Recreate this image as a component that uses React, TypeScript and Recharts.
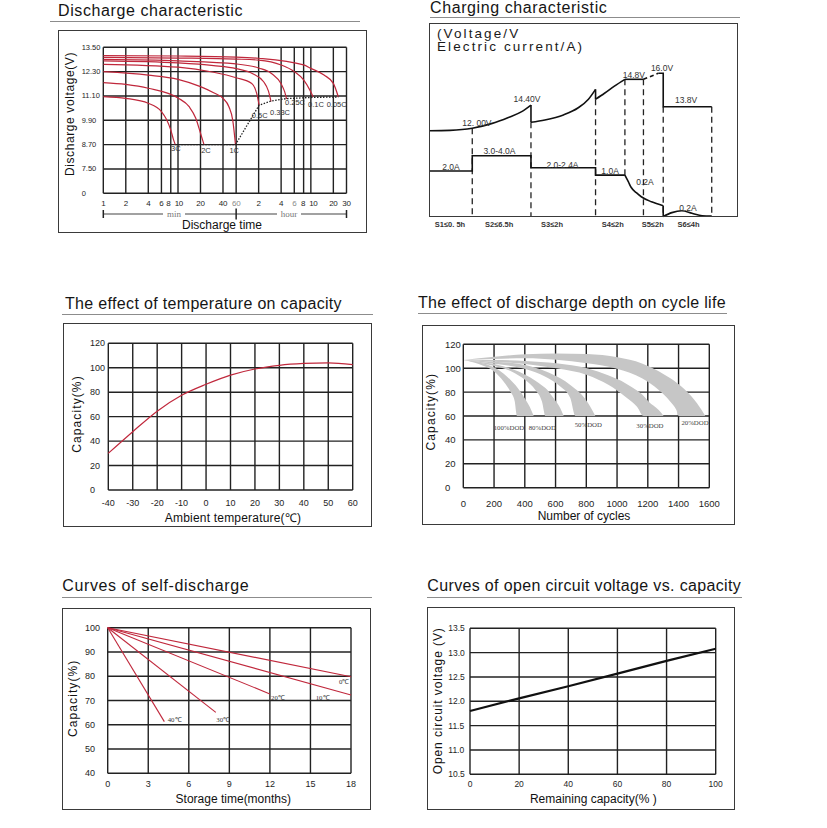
import React from 'react';
import {
  LineChart, Line, AreaChart, Area, XAxis, YAxis, CartesianGrid,
  ReferenceLine, ReferenceDot,
} from 'recharts';

const SANS = '"Liberation Sans", Arial, Helvetica, sans-serif';
const SERIF = '"Liberation Serif", "Times New Roman", serif';
const INK = '#1e1e1e';
const RED = '#c0283c';
const GRID = '#222';
const GW = 1.4;

/* ---------------- 1. Discharge characteristic ---------------- */
const dischargeTimeTicks = [1, 2, 4, 6, 8, 10, 20, 40, 60, 120, 240, 360, 480, 600, 1200, 1800];
const dischargeTimeLabels = ['1', '2', '4', '6', '8', '10', '20', '40', '60', '2', '4', '6', '8', '10', '20', '30'];
const dischargeVoltTicks = [0, 7.5, 8.7, 9.9, 11.1, 12.3, 13.5];
const dischargeVoltLabels = ['0', '7.50', '8.70', '9.90', '11.10', '12.30', '13.50'];

const curve3C = [[1, 11.07], [2, 10.98], [4, 10.74], [6, 10.33], [7, 9.95], [8, 9.42], [8.7, 8.95], [9.2, 8.7]];
const curve2C = [[1, 11.76], [2, 11.67], [4, 11.48], [10, 11.0], [14.1, 10.57], [17.3, 10.0], [20, 9.26], [22.3, 8.7]];
const curve1C = [[1, 12.3], [4, 12.13], [10, 11.92], [20, 11.56], [30, 11.26], [40, 10.98], [48, 10.57], [54, 9.91], [58.8, 8.7]];
const curve05C = [[1, 12.66], [10, 12.52], [30, 12.27], [60, 12.0], [97, 11.72], [113, 11.23], [122, 10.65]];
const curve033C = [[1, 12.83], [10, 12.73], [30, 12.6], [60, 12.45], [100, 12.2], [140, 11.8], [162, 11.35], [176, 10.82]];
const curve025C = [[1, 12.9], [10, 12.83], [60, 12.68], [120, 12.48], [180, 12.2], [240, 11.7], [268, 11.3], [284, 10.95]];
const curve01C = [[1, 13.0], [10, 12.97], [60, 12.92], [120, 12.87], [240, 12.63], [360, 12.3], [480, 11.89], [580, 11.4], [645, 11.05]];
const curve005C = [[1, 13.09], [10, 13.07], [60, 13.02], [120, 12.96], [480, 12.63], [600, 12.46], [900, 12.13], [1200, 11.72], [1400, 11.05]];
const cutoffPath = [[9.2, 8.7], [58.8, 8.7], [122, 10.65], [176, 10.85], [284, 10.97], [645, 11.03], [1400, 11.05]];

const dischargeRates = ['3C', '2C', '1C', '0.5C', '0.33C', '0.25C', '0.1C', '0.05C'];
const dischargeCurves = [curve3C, curve2C, curve1C, curve05C, curve033C, curve025C, curve01C, curve005C];
const rateLabelTime = [9.36, 23.7, 56.5, 124, 232, 368, 703, 1331];
const rateLabelVolt = [8.5, 8.4, 8.4, 10.16, 10.28, 10.77, 10.7, 10.7];

/* ---------------- 2. Charging characteristic (schematic units) ---------------- */
const stageCenters = [6.8, 22.7, 39.8, 59.5, 72.4, 84.0];
const stageLabels = ['S1≤0. 5h', 'S2≤6.5h', 'S3≤2h', 'S4≤2h', 'S5≤2h', 'S6≤4h'];

const voltageRise1 = [[0, 44.3], [6.8, 44.5], [14, 45.6], [20.2, 48.0], [25.7, 51.2], [30, 54.2], [33, 57.6]];
const voltageRise2 = [[33, 48.7], [37.5, 49.9], [43.5, 52.5], [48.3, 56.2], [51.6, 60.6], [53.9, 65.7]];
const voltageRise3 = [[53.9, 60.6], [56.8, 63.7], [60, 67.4], [63.4, 70.9]];
const voltageDrop1 = [[33, 57.6], [33, 48.7]];
const voltageDrop2 = [[53.9, 65.7], [53.9, 60.6]];
const voltageHold = [[63.4, 70.9], [69.4, 70.9]];
const voltageBoost = [[69.4, 70.9], [74.2, 74.0]];
const voltageFloat = [[74.2, 74.0], [75.8, 74.0], [75.8, 56.7], [91.5, 56.7]];
const currentSteps = [[0, 23.5], [14, 23.5], [14, 31.4], [33, 31.4], [33, 25.2], [53.9, 25.2], [53.9, 21.4], [63.4, 21.4]];
const currentDecay = [[63.4, 21.4], [64.5, 18.0], [65.4, 15.1], [67.1, 12.3], [68.7, 10.2], [72.0, 7.6], [75.8, 5.6]];
const currentDrop = [[75.8, 5.6], [75.8, 0]];
const currentHump = [[75.8, 0], [78.6, 2.0], [81.8, 3.0], [85.1, 1.7], [88.4, 0.4], [91.5, 0.2]];
const stageDividerX = [14, 33, 53.9, 63.4, 69.4, 75.8, 91.5];
const stageDividerTop = [45.6, 48.7, 60.6, 70.9, 70.9, 56.7, 56.7];
const stageDividerBottom = [0, 0, 0, 21.4, 0, 0, 0];

const chargeNotes = ['12. 00V', '14.40V', '14.8V', '16.0V', '13.8V', '2.0A', '3.0-4.0A', '2.0-2.4A', '1.0A', '0.2A', '0.2A'];
const chargeNoteX = [15.5, 31.7, 66.3, 75.4, 83.2, 7.1, 22.8, 43.2, 58.6, 69.9, 83.8];
const chargeNoteY = [48.3, 60.7, 73.1, 76.7, 60.2, 25.8, 33.6, 26.6, 23.3, 17.6, 4.4];

/* ---------------- 3. Temperature vs capacity ---------------- */
const tempC = [-40, -30, -20, -10, 0, 10, 20, 30, 40, 50, 60];
const tempCapacity = [30, 47.7, 64.5, 77.5, 86.5, 94, 99, 102, 103.5, 104, 102.5];

/* ---------------- 4. Discharge depth vs cycle life ---------------- */
const dod100Cycles = [0, 100, 202, 263, 306, 334, 349, 393, 432, 458];
const dod100Upper = [106.9, 104.9, 100.5, 95.3, 90.3, 86.5, 84.3, 76.2, 67.8, 60];
const dod100Lower = [106.9, 103.5, 97.1, 88.7, 80.4, 72.5, 60, 60, 60, 60];
const dod80Cycles = [0, 100, 202, 317, 403, 469, 512, 534, 588, 631, 653];
const dod80Upper = [106.9, 105.4, 103.5, 99.3, 94.5, 89.5, 85.5, 83.5, 74.8, 66.4, 60];
const dod80Lower = [106.9, 104.6, 101.8, 97.1, 90.1, 81.8, 72, 60, 60, 60, 60];
const dod50Cycles = [0, 202, 403, 534, 631, 696, 729, 772, 826, 859];
const dod50Upper = [106.9, 105.5, 102.7, 97.5, 91.5, 86, 82.5, 77.6, 67.8, 60];
const dod50Lower = [106.9, 103.8, 99.3, 92.9, 84.6, 75, 60, 60, 60, 60];
const dod30Cycles = [0, 202, 403, 605, 805, 946, 1054, 1130, 1173, 1206, 1271, 1303];
const dod30Upper = [106.9, 106.9, 106, 104.1, 99.9, 93.8, 87.5, 81.3, 76.8, 72, 65, 60];
const dod30Lower = [106.9, 105.5, 103.5, 99.9, 94.3, 85.9, 76.2, 67.8, 60, 60, 60, 60];
const dod20Cycles = [0, 202, 403, 605, 805, 1004, 1162, 1271, 1347, 1386, 1401, 1444, 1520, 1574];
const dod20Upper = [106.9, 109.65, 111.6, 112.4, 111.9, 109.1, 104, 97.5, 91.5, 88, 86.5, 81.8, 70.6, 60];
const dod20Lower = [106.9, 107.7, 108.3, 107, 104.1, 99.3, 91.5, 81.8, 72, 65, 60, 60, 60, 60];
const dodNames = ['100%DOD', '80%DOD', '50%DOD', '30%DOD', '20%DOD'];
const dodLabelCycles = [297, 514, 813, 1214, 1507];
const dodLabelCap = [50.5, 50.0, 52.5, 51.9, 54.4];

/* ---------------- 5. Self-discharge ---------------- */
const selfTemps = ['0℃', '10℃', '20℃', '30℃', '40℃'];
const selfEndMonths = [18, 18, 12, 8, 4.19];
const selfEndCapacity = [79.8, 72.3, 72.7, 65.1, 61.3];
const selfLabelMonths = [17.5, 15.9, 12.6, 8.55, 4.95];
const selfLabelCapacity = [77.8, 71.2, 71.2, 62.3, 62.3];

/* ---------------- 6. Open circuit voltage ---------------- */
const ocvCapacity = [0, 20, 40, 60, 80, 100];
const ocvVoltage = [11.8, 12.06, 12.31, 12.57, 12.83, 13.08];

/* ---------------- helpers ---------------- */
const pairs = (arr: number[][]) => arr.map(([x, y]) => ({ x, y }));

const txt = (x: number, y: number, s: string, fs: number, anchor: string, fill = INK, family = SANS, weight: any = 'normal', ls = 0) => (
  <text x={x} y={y} textAnchor={anchor as any} dominantBaseline="central" fontSize={fs} fontFamily={family}
    fill={fill} fontWeight={weight} letterSpacing={ls}>{s}</text>
);

const leftTick = (x: number, fs: number, fmt: (v: number) => string = (v) => String(v)) =>
  (p: any) => txt(x, p.y, fmt(p.payload.value), fs, 'start');

const bottomTick = (off: number, fs: number, fmt: (v: number) => string = (v) => String(v),
  color: (v: number) => string = () => INK, weight: any = 'normal', ls = 0,
  nudge: (v: number) => number = () => 0) =>
  (p: any) => txt(p.x + nudge(p.payload.value), p.y + off, fmt(p.payload.value), fs, 'middle',
    color(p.payload.value), SANS, weight, ls);

const fixedLabel = (s: string, x: number, y: number, rotate: boolean, fs = 12, ls = 0) => ({
  content: () => (
    <text x={x} y={y} textAnchor="middle" dominantBaseline="central" fontSize={fs} fontFamily={SANS}
      fill="#111" letterSpacing={ls} transform={rotate ? `rotate(-90, ${x}, ${y})` : undefined}>{s}</text>
  ),
});

const note = (key: string, x: number, y: number, s: string, fs: number, fill: string, family = SANS, weight: any = 'normal') => (
  <ReferenceDot key={key} x={x} y={y} r={0} fill="none" stroke="none" ifOverflow="visible"
    label={{
      content: (p: any) => {
        const vb = p.viewBox || {};
        const cx = (vb.x ?? 0) + (vb.width ?? 0) / 2;
        const cy = (vb.y ?? 0) + (vb.height ?? 0) / 2;
        return txt(cx, cy, s, fs, 'middle', fill, family, weight);
      },
    }} />
);

const Title = ({ text, left, top, ls }: any) => (
  <div style={{ position: 'absolute', left, top, fontSize: 16, lineHeight: '16px', letterSpacing: ls,
    fontFamily: SANS, color: '#151515', whiteSpace: 'nowrap' }}>{text}</div>
);
const Rule = ({ left, top, width }: any) => (
  <div style={{ position: 'absolute', left, top, width, height: 1, background: '#8c8c8c' }} />
);
const Box = ({ left, top, width, height, children }: any) => (
  <div style={{ position: 'absolute', left, top, width, height }}>
    {children}
    <div style={{ position: 'absolute', left: 0, top: 0, width, height, border: '1px solid #3a3a3a',
      boxSizing: 'border-box', pointerEvents: 'none' }} />
  </div>
);

/* ---------------- charts ---------------- */
function DischargeChart() {
  const toU = (v: number) => (v <= 7.5 ? v / 7.5 : 1 + (v - 7.5) / 1.2);
  const uTicks = dischargeVoltTicks.map(toU);
  const W = 309, H = 203, PL = 45.3, PR = 288.5, PB = 163.3;
  const px = (t: number) => PL + (PR - PL) * Math.log(t) / Math.log(1800);
  const greyTicks = [60, 360];
  const tickNudge = (v: number) => (v === 8 ? -2.5 : v === 10 ? 0.8 : v === 480 ? -0.5 : v === 600 ? 2.5 : 0);
  const bracket = () => {
    const yb = PB + 20.7;
    const x60 = px(60);
    const seg = (a: number, b: number, k: string) => <line key={k} x1={a} y1={yb} x2={b} y2={yb} stroke="#444" strokeWidth={1.2} />;
    const bar = (x: number, h: number, k: string) => <line key={k} x1={x} y1={yb - h} x2={x} y2={yb + h} stroke="#222" strokeWidth={1.5} />;
    return (
      <g>
        {seg(PL, 105, 'a')}{seg(127, x60, 'b')}{seg(x60, 219, 'c')}{seg(243, PR, 'd')}
        {bar(PL, 4, 'e')}{bar(PR, 4, 'f')}{bar(x60, 5.5, 'g')}
        {txt(116, yb, 'min', 9, 'middle', '#777', SERIF)}
        {txt(231, yb, 'hour', 9, 'middle', '#777', SERIF)}
        {txt(164, 194.5, 'Discharge time', 12, 'middle', '#111')}
      </g>
    );
  };
  return (
    <LineChart width={W} height={H} margin={{ top: 17.3, right: W - PR, left: 0, bottom: 0 }}>
      <CartesianGrid stroke={GRID} strokeWidth={GW} />
      <XAxis dataKey="x" type="number" scale="log" domain={[1, 1800]} ticks={dischargeTimeTicks} allowDataOverflow
        interval={0} height={H - PB} axisLine={false} tickLine={false} tickSize={0} tickMargin={0}
        tick={bottomTick(10, 8, (v) => dischargeTimeLabels[dischargeTimeTicks.indexOf(v)] ?? '',
          (v) => (greyTicks.includes(v) ? '#8a8a8a' : INK), 'normal', -0.3, tickNudge)}
        label={{ content: bracket }} />
      <YAxis type="number" domain={[0, 6]} ticks={uTicks} interval={0} width={PL} axisLine={false} tickLine={false}
        tickSize={0} tickMargin={0}
        tick={leftTick(23.7, 7.5, (v) => dischargeVoltLabels[Math.round(v)])}
        label={fixedLabel('Discharge voltage(V)', 12, 84, true, 12, 0.6)} />
      {dischargeCurves.map((c, i) => (
        <Line key={dischargeRates[i]} data={c.map(([t, v]) => ({ x: t, y: toU(v) }))} dataKey="y" type="monotone"
          stroke={RED} strokeWidth={1.2} dot={false} activeDot={false} isAnimationActive={false} />
      ))}
      <Line data={cutoffPath.map(([t, v]) => ({ x: t, y: toU(v) }))} dataKey="y" type="linear" stroke="#222"
        strokeWidth={1.3} strokeDasharray="1.5 1.5" dot={false} activeDot={false} isAnimationActive={false} />
      {dischargeRates.map((r, i) => note('n' + r, rateLabelTime[i], toU(rateLabelVolt[i]), r, 7.5, '#333'))}
    </LineChart>
  );
}

function ChargingChart() {
  const solidLinear = [voltageDrop1, voltageDrop2, voltageHold, voltageFloat, currentSteps, currentDrop];
  const solidCurved = [voltageRise1, voltageRise2, voltageRise3, currentDecay, currentHump];
  return (
    <LineChart width={309} height={209} margin={{ top: 0, right: 0, left: 0, bottom: 0 }}>
      <XAxis dataKey="x" type="number" domain={[0, 100]} ticks={stageCenters} interval={0} height={15.5}
        axisLine={false} tickLine={false} tickSize={0} tickMargin={0}
        tick={bottomTick(7.5, 7.5, (v) => stageLabels[stageCenters.indexOf(v)] ?? '', () => '#333', 'bold')} />
      <YAxis type="number" domain={[0, 100]} hide />
      {stageDividerX.map((x, i) => (
        <ReferenceLine key={'d' + i} segment={[{ x, y: stageDividerTop[i] }, { x, y: stageDividerBottom[i] }]}
          stroke="#222" strokeWidth={1.3} strokeDasharray="6 4" ifOverflow="visible" />
      ))}
      {solidLinear.map((s, i) => (
        <Line key={'l' + i} data={pairs(s)} dataKey="y" type="linear" stroke="#111" strokeWidth={1.6}
          dot={false} activeDot={false} isAnimationActive={false} />
      ))}
      {solidCurved.map((s, i) => (
        <Line key={'c' + i} data={pairs(s)} dataKey="y" type="monotone" stroke="#111" strokeWidth={1.6}
          dot={false} activeDot={false} isAnimationActive={false} />
      ))}
      <Line data={pairs(voltageBoost)} dataKey="y" type="linear" stroke="#111" strokeWidth={1.6}
        strokeDasharray="4 3" dot={false} activeDot={false} isAnimationActive={false} />
      {chargeNotes.map((s, i) => note('c' + i, chargeNoteX[i], chargeNoteY[i], s, 8.5, '#333'))}
    </LineChart>
  );
}

function TemperatureChart() {
  const data = tempC.map((t, i) => ({ x: t, y: tempCapacity[i] }));
  return (
    <LineChart width={309} height={204} data={data} margin={{ top: 20.3, right: 19.3, left: 0, bottom: 0 }}>
      <CartesianGrid stroke={GRID} strokeWidth={GW} />
      <XAxis dataKey="x" type="number" domain={[-40, 60]} ticks={tempC} interval={0} height={37}
        axisLine={false} tickLine={false} tickSize={0} tickMargin={0} tick={bottomTick(13.3, 9)}
        label={fixedLabel('Ambient temperature(℃)', 170, 195, false, 12, 0.2)} />
      <YAxis type="number" domain={[0, 120]} ticks={[0, 20, 40, 60, 80, 100, 120]} interval={0} width={45.3}
        axisLine={false} tickLine={false} tickSize={0} tickMargin={0} tick={leftTick(27, 9)}
        label={fixedLabel('Capacity(%)', 13.7, 91, true, 12, 1.1)} />
      <Line dataKey="y" type="monotone" stroke={RED} strokeWidth={1.2} dot={false} activeDot={false}
        isAnimationActive={false} />
    </LineChart>
  );
}

function DodChart() {
  const bands = [
    [dod100Cycles, dod100Upper, dod100Lower],
    [dod80Cycles, dod80Upper, dod80Lower],
    [dod50Cycles, dod50Upper, dod50Lower],
    [dod30Cycles, dod30Upper, dod30Lower],
    [dod20Cycles, dod20Upper, dod20Lower],
  ];
  return (
    <AreaChart width={313} height={200} margin={{ top: 19.3, right: 25.7, left: 0, bottom: 0 }}>
      <CartesianGrid stroke={GRID} strokeWidth={GW} />
      <XAxis dataKey="x" type="number" domain={[0, 1600]} ticks={[0, 200, 400, 600, 800, 1000, 1200, 1400, 1600]}
        interval={0} height={37.3} axisLine={false} tickLine={false} tickSize={0} tickMargin={0}
        tick={bottomTick(15.6, 9.5)} label={fixedLabel('Number of cycles', 162, 191, false, 12, 0)} />
      <YAxis type="number" domain={[0, 120]} ticks={[0, 20, 40, 60, 80, 100, 120]} interval={0} width={41.3}
        axisLine={false} tickLine={false} tickSize={0} tickMargin={0} tick={leftTick(23, 9.5)}
        label={fixedLabel('Capacity(%)', 8.8, 86.7, true, 12, 1.1)} />
      {bands.map(([cyc, hi, lo], i) => (
        <Area key={dodNames[i]} data={cyc.map((c, j) => ({ x: c, r: [lo[j], hi[j]] }))} dataKey="r"
          type="monotone" stroke="none" fill="#c6c6c6" fillOpacity={1} dot={false} activeDot={false}
          isAnimationActive={false} />
      ))}
      {dodNames.map((s, i) => note('d' + i, dodLabelCycles[i], dodLabelCap[i], s, 6.8, '#444', SERIF))}
    </AreaChart>
  );
}

function SelfDischargeChart() {
  return (
    <LineChart width={309} height={202} margin={{ top: 19.7, right: 20, left: 0, bottom: 0 }}>
      <CartesianGrid stroke={GRID} strokeWidth={GW} />
      <XAxis dataKey="x" type="number" domain={[0, 18]} ticks={[0, 3, 6, 9, 12, 15, 18]} interval={0}
        height={36.7} axisLine={false} tickLine={false} tickSize={0} tickMargin={0} tick={bottomTick(11, 9)}
        label={fixedLabel('Storage time(months)', 171.3, 191, false, 12, 0)} />
      <YAxis type="number" domain={[40, 100]} ticks={[40, 50, 60, 70, 80, 90, 100]} interval={0} width={45.7}
        axisLine={false} tickLine={false} tickSize={0} tickMargin={0} tick={leftTick(23, 9)}
        label={fixedLabel('Capacity(%)', 11.3, 90.3, true, 12, 1.1)} />
      {selfTemps.map((t, i) => (
        <Line key={t} data={[{ x: 0, y: 100 }, { x: selfEndMonths[i], y: selfEndCapacity[i] }]} dataKey="y"
          type="linear" stroke={RED} strokeWidth={1.1} dot={false} activeDot={false} isAnimationActive={false} />
      ))}
      {selfTemps.map((t, i) => note('s' + i, selfLabelMonths[i], selfLabelCapacity[i], t, 6.8, '#333', SERIF))}
    </LineChart>
  );
}

function OcvChart() {
  const data = ocvCapacity.map((c, i) => ({ x: c, y: ocvVoltage[i] }));
  return (
    <LineChart width={308} height={203} data={data} margin={{ top: 21.3, right: 19.3, left: 0, bottom: 0 }}>
      <CartesianGrid stroke={GRID} strokeWidth={GW} />
      <XAxis dataKey="x" type="number" domain={[0, 100]} ticks={ocvCapacity} interval={0} height={35.7}
        axisLine={false} tickLine={false} tickSize={0} tickMargin={0} tick={bottomTick(10, 8.5)}
        label={fixedLabel('Remaining capacity(% )', 166.3, 192, false, 12, 0)} />
      <YAxis type="number" domain={[10.5, 13.5]} ticks={[10.5, 11, 11.5, 12, 12.5, 13, 13.5]} interval={0}
        width={43} axisLine={false} tickLine={false} tickSize={0} tickMargin={0}
        tick={leftTick(21.3, 8.5, (v) => v.toFixed(1))}
        label={fixedLabel('Open circuit voltage (V)', 10.7, 93.8, true, 12, 0.9)} />
      <Line dataKey="y" type="linear" stroke="#111" strokeWidth={2.2} dot={false} activeDot={false}
        isAnimationActive={false} />
    </LineChart>
  );
}

const headStyle: React.CSSProperties = {
  position: 'absolute', left: 8, fontSize: 13.5, lineHeight: '13px', height: 13,
  letterSpacing: 2.1, color: '#1a1a1a', whiteSpace: 'nowrap',
};

export default function App() {
  return (
    <div style={{ position: 'absolute', left: 0, top: 0, width: 827, height: 828, background: '#fff',
      overflow: 'hidden', fontFamily: SANS }}>
      <Title text="Discharge characteristic" left={58} top={3.2} ls={0.6} />
      <Rule left={50} top={21} width={310} />
      <Box left={58} top={30} width={309} height={203}><DischargeChart /></Box>

      <Title text="Charging characteristic" left={430} top={0} ls={0.6} />
      <Rule left={430} top={17} width={310} />
      <Box left={429} top={23} width={309} height={193.5}>
        <div style={{ position: 'absolute', left: 0, top: 0 }}><ChargingChart /></div>
        <div style={{ ...headStyle, top: 3.5 }}>(Voltage/V</div>
        <div style={{ ...headStyle, top: 17 }}>Electric current/A)</div>
      </Box>

      <Title text="The effect of temperature on capacity" left={65} top={295.5} ls={0.33} />
      <Rule left={62} top={314} width={311} />
      <Box left={63} top={323} width={309} height={204}><TemperatureChart /></Box>

      <Title text="The effect of discharge depth on cycle life" left={418} top={294.8} ls={0.3} />
      <Rule left={418} top={313} width={309} />
      <Box left={422} top={325} width={313} height={200}><DodChart /></Box>

      <Title text="Curves of self-discharge" left={62.3} top={578} ls={0.6} />
      <Rule left={62} top={596.5} width={310} />
      <Box left={62} top={608} width={309} height={202}><SelfDischargeChart /></Box>

      <Title text="Curves of open circuit voltage vs. capacity" left={427.3} top={577.5} ls={0.35} />
      <Rule left={427} top={596.5} width={315} />
      <Box left={427} top={607} width={308} height={203}><OcvChart /></Box>
    </div>
  );
}
